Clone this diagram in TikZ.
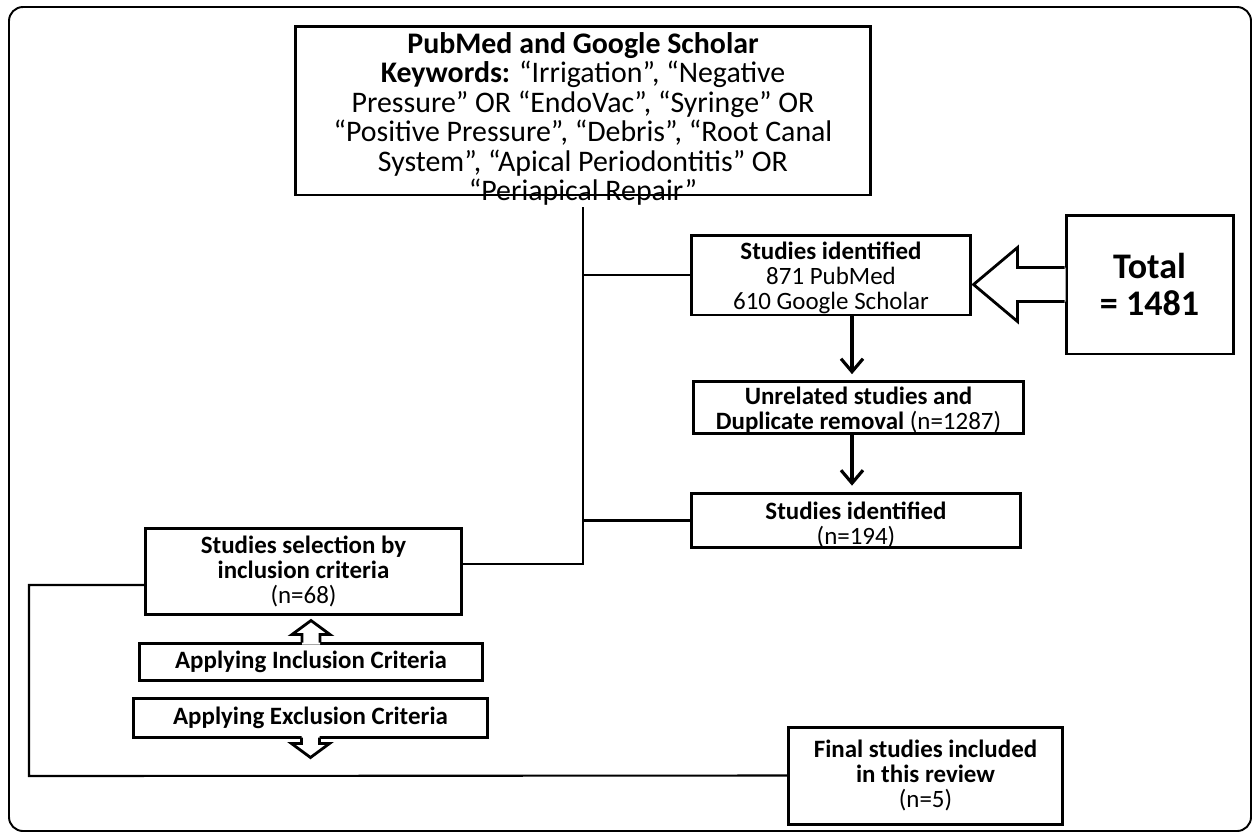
\documentclass[tikz,border=0pt]{standalone}
\usepackage{fontspec}
\setmainfont{Carlito}
\usetikzlibrary{arrows.meta,calc}
\begin{document}
\begin{tikzpicture}[x=0.02cm,y=-0.02cm,
  box/.style={draw=black,line width=1.7pt,fill=white,inner sep=0pt,align=center,
    font=\fontsize{14.2}{14.2}\selectfont},
  txt/.style={inner sep=0pt,align=center},
  link/.style={line width=1.2pt,line cap=rect},
  darr/.style={line width=1.8pt,shorten >=1.2mm,-{Straight Barb[length=2.6mm,width=4.4mm]}},
  blk/.style={line width=1.6pt,line join=miter}]
\useasboundingbox (0,0) rectangle (1256,833);
\draw[line width=1.1pt,rounded corners=0.28cm] (9,7) rectangle (1251,831);

\node[box,minimum width=11.52cm,minimum height=3.38cm] (top) at (583,110.5) {};
\node[txt,font=\fontsize{17}{16.8}\selectfont] (toptext) at (583,119)
 {\textbf{PubMed and Google Scholar}\\
  \textbf{Keywords:} “Irrigation”, “Negative\\
  Pressure” OR “EndoVac”, “Syringe” OR\\
  “Positive Pressure”, “Debris”, “Root Canal\\
  System”, “Apical Periodontitis” OR\\
  “Periapical Repair”};

\node[box,minimum width=5.6cm,minimum height=1.6cm] (ident) at (831,275)
 {\rule{0pt}{13pt}\textbf{Studies identified}\\871 PubMed\\610 Google Scholar};
\node[box,minimum width=3.34cm,minimum height=2.78cm,font=\fontsize{20.5}{21}\selectfont] (total) at (1149.5,284.5)
 {\textbf{Total}\\\textbf{= 1481}};
\node[box,minimum width=6.62cm,minimum height=1.02cm] (unrel) at (858.5,407.5)
 {\rule{0pt}{13pt}\textbf{Unrelated studies and}\\\textbf{Duplicate removal} (n=1287)};
\node[box,minimum width=6.6cm,minimum height=1.02cm] (ident2) at (856,520.5)
 {\rule{0pt}{15pt}\textbf{Studies identified}\\(n=194)};
\node[box,minimum width=6.34cm,minimum height=1.72cm] (sel) at (303.5,571)
 {\textbf{Studies selection by}\\\textbf{inclusion criteria}\\(n=68)};
\node[box,minimum width=6.88cm,minimum height=0.74cm] (incl) at (311,661.5)
 {\textbf{Applying Inclusion Criteria}};
\node[box,minimum width=7.1cm,minimum height=0.78cm] (excl) at (310.5,717.5)
 {\textbf{Applying Exclusion Criteria}};
\node[box,minimum width=5.5cm,minimum height=1.94cm] (final) at (925.5,775.5)
 {\textbf{Final studies included}\\\textbf{in this review}\\(n=5)};

% trunk and branches
\coordinate (tt) at ($(top.south)+(0,12)$);
\coordinate (tb) at (583,564);
\draw[link] (tt) -- (tb) -- (tb -| sel.east);
\draw[link] (ident.west -| tt) -- (ident.west);
\draw[link] (ident2.west -| tt) -- (ident2.west);
\coordinate (lc) at (29,776);
\draw[link] ($(sel.west)+(0,14)$) -| (lc) -- (final.west);

% down arrows
\coordinate (ax) at (852,0);
\draw[darr] (ident.south -| ax) -- (unrel.north -| ax);
\draw[darr] (unrel.south -| ax) -- (ident2.north -| ax);

% block arrow to the left from Total
\begin{scope}[shift={(total.west)}]
  \fill[white] (1,-17) -- (-47,-17) -- (-47,-37) -- (-91,0) -- (-47,37) -- (-47,17) -- (1,17) -- cycle;
  \draw[blk] (0,-17) -- (-47,-17) -- (-47,-37) -- (-91,0) -- (-47,37) -- (-47,17) -- (0,17);
\end{scope}

% up arrow above inclusion box
\begin{scope}[shift={(incl.north)}]
  \fill[white] (-9,3) -- (-9,-7) -- (-19,-7) -- (0,-21) -- (19,-7) -- (9,-7) -- (9,3) -- cycle;
  \draw[blk] (-9,1) -- (-9,-7) -- (-19,-7) -- (0,-21) -- (19,-7) -- (9,-7) -- (9,1);
\end{scope}
% down arrow below exclusion box
\begin{scope}[shift={(excl.south)}]
  \fill[white] (-9,-3) -- (-9,5) -- (-19,5) -- (0,19) -- (19,5) -- (9,5) -- (9,-3) -- cycle;
  \draw[blk] (-9,-1) -- (-9,5) -- (-19,5) -- (0,19) -- (19,5) -- (9,5) -- (9,-1);
\end{scope}
\end{tikzpicture}
\end{document}
